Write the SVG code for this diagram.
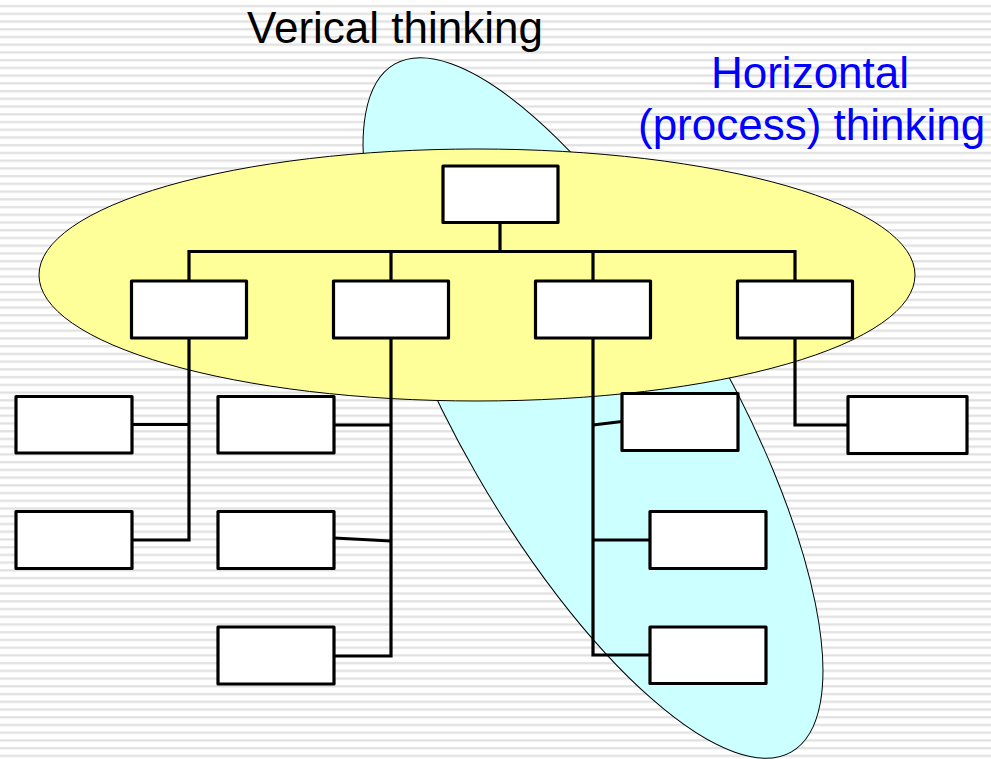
<svg xmlns="http://www.w3.org/2000/svg" width="991" height="759" viewBox="0 0 991 759">
  <defs>
    <pattern id="stripes" patternUnits="userSpaceOnUse" x="0" y="0" width="991" height="7.73">
      <rect x="0" y="0" width="991" height="7.73" fill="#ffffff"/>
      <rect x="0" y="5" width="991" height="1.8" fill="#e0e0e0"/>
      <rect x="0" y="6.8" width="991" height="0.8" fill="#efefef"/>
    </pattern>
  </defs>
  <style>
    .box { fill: #ffffff; stroke: #000000; stroke-width: 3.2; stroke-linejoin: round; }
    .wire { fill: none; stroke: #000000; stroke-width: 3.2; stroke-linejoin: miter; stroke-linecap: butt; }
    .zone { stroke: #000000; stroke-width: 1; }
    .label { font-family: "Liberation Sans", Arial, sans-serif; font-size: 44px; }
  </style>

  <!-- striped slide background -->
  <rect x="0" y="0" width="991" height="759" fill="url(#stripes)"/>

  <!-- process (horizontal) zone, tilted -->
  <g id="process-zone">
    <ellipse class="zone" cx="593" cy="408" rx="397" ry="134" fill="#ccffff" transform="rotate(60 593 408)"/>
  </g>

  <!-- management (vertical) zone -->
  <g id="hierarchy-zone">
    <ellipse class="zone" cx="477" cy="275" rx="438" ry="126" fill="#ffff99"/>
  </g>

  <!-- connectors -->
  <g id="connectors">
    <!-- top box to bus -->
    <path class="wire" d="M500,222 V251.5"/>
    <path class="wire" d="M189,281 V251.5 H795 V281"/>
    <path class="wire" d="M391,251.5 V281"/>
    <path class="wire" d="M593,251.5 V281"/>
    <!-- column 1 -->
    <path class="wire" d="M189,338 V540 H132"/>
    <path class="wire" d="M132,424.5 H189"/>
    <!-- column 2 -->
    <path class="wire" d="M391,338 V656 H334"/>
    <path class="wire" d="M334,425 H391"/>
    <path class="wire" d="M334,538 L391,541"/>
    <!-- column 3 -->
    <path class="wire" d="M593,338 V655 H650"/>
    <path class="wire" d="M593,425 L622,421.5"/>
    <path class="wire" d="M593,540 H650"/>
    <!-- column 4 -->
    <path class="wire" d="M795,338 V425 H848"/>
  </g>

  <!-- nodes -->
  <g id="n-top"><rect class="box" x="443" y="166" width="115" height="56.5"/></g>

  <g id="n-a"><rect class="box" x="131.5" y="281" width="115" height="57"/></g>
  <g id="n-b"><rect class="box" x="333.5" y="281" width="115" height="57"/></g>
  <g id="n-c"><rect class="box" x="535.5" y="281" width="115" height="57"/></g>
  <g id="n-d"><rect class="box" x="737.5" y="281" width="115" height="57"/></g>

  <g id="n-a1"><rect class="box" x="16" y="396.5" width="116" height="56.5"/></g>
  <g id="n-a2"><rect class="box" x="16" y="511.5" width="116" height="57"/></g>

  <g id="n-b1"><rect class="box" x="218" y="396.5" width="116" height="56.5"/></g>
  <g id="n-b2"><rect class="box" x="218" y="511.5" width="116" height="57"/></g>
  <g id="n-b3"><rect class="box" x="218" y="627" width="116" height="57"/></g>

  <g id="n-c1"><rect class="box" x="622" y="393.5" width="116" height="57"/></g>
  <g id="n-c2"><rect class="box" x="650" y="511.5" width="116" height="57"/></g>
  <g id="n-c3"><rect class="box" x="650" y="627" width="116" height="56.5"/></g>

  <g id="n-d1"><rect class="box" x="848" y="396.5" width="119" height="57"/></g>

  <!-- captions -->
  <text class="label" x="247" y="43" fill="#000000">Verical thinking</text>
  <text class="label" x="810" y="88" fill="#0000ff" text-anchor="middle">Horizontal</text>
  <text class="label" x="638" y="140" fill="#0000ff" font-size="44.6">(process) thinking</text>
</svg>
